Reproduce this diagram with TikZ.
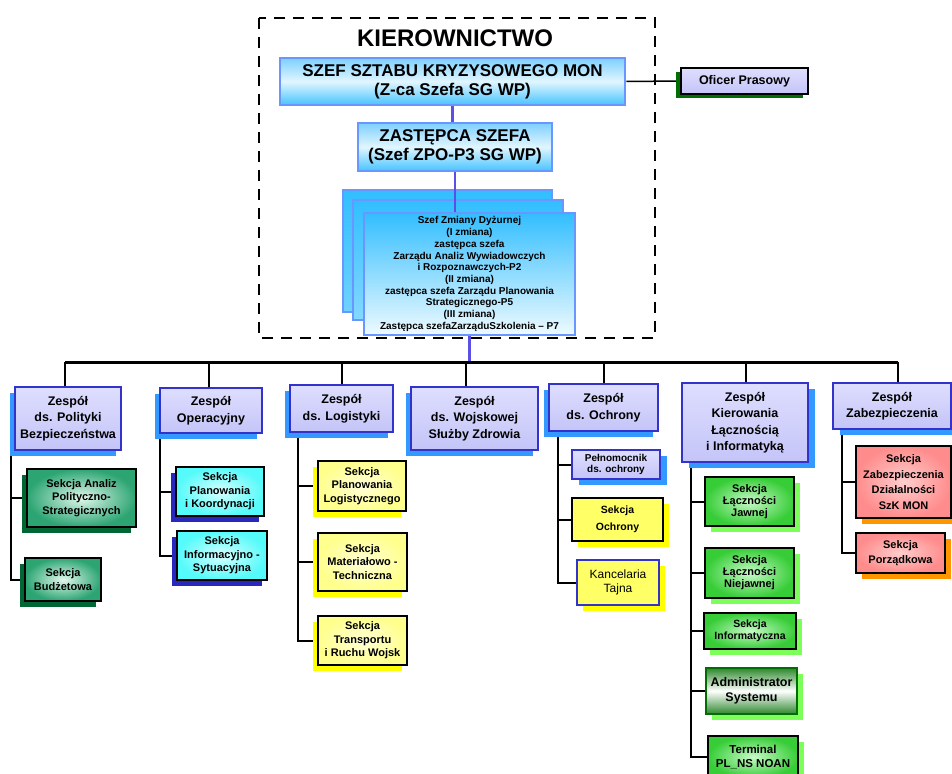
\documentclass[tikz,border=0pt]{standalone}
\usepackage{fontspec}
\setmainfont{Liberation Sans}
\usetikzlibrary{shadows}
\pgfdeclarelayer{edgelayer}
\pgfdeclarelayer{nodelayer}
\pgfsetlayers{edgelayer,nodelayer,main}
\definecolor{headline}{RGB}{105,150,255}
\definecolor{headtop}{RGB}{125,208,255}
\definecolor{headmid}{RGB}{225,246,255}
\definecolor{headbot}{RGB}{70,195,255}
\definecolor{dutytop}{RGB}{50,190,255}
\definecolor{dutybot}{RGB}{238,250,255}
\definecolor{trunkline}{RGB}{90,80,230}
\definecolor{teamline}{RGB}{51,51,204}
\definecolor{teamtop}{RGB}{222,222,255}
\definecolor{teambot}{RGB}{196,196,248}
\definecolor{teamshadow}{RGB}{51,153,255}
\definecolor{tealin}{RGB}{225,248,236}
\definecolor{tealout}{RGB}{45,165,115}
\definecolor{tealshadow}{RGB}{0,102,51}
\definecolor{aquain}{RGB}{215,255,255}
\definecolor{aquaout}{RGB}{85,250,250}
\definecolor{aquashadow}{RGB}{40,40,190}
\definecolor{lemonin}{RGB}{255,255,215}
\definecolor{lemonout}{RGB}{255,255,140}
\definecolor{lemonshadow}{RGB}{255,255,0}
\definecolor{guardfill}{RGB}{255,255,102}
\definecolor{limein}{RGB}{200,250,200}
\definecolor{limeout}{RGB}{55,205,55}
\definecolor{limeshadow}{RGB}{125,255,90}
\definecolor{admdark}{RGB}{45,135,45}
\definecolor{admline}{RGB}{0,110,0}
\definecolor{rosein}{RGB}{255,205,205}
\definecolor{roseout}{RGB}{255,140,140}
\definecolor{roseshadow}{RGB}{255,150,0}
\tikzstyle{none}=[inner sep=0pt]
\tikzstyle{box}=[rectangle, inner sep=0pt, align=center]
\tikzstyle{head}=[box, draw=headline, line width=2.5pt, top color=headtop, bottom color=headbot, middle color=headmid, font=\bfseries\fontsize{17}{19}\selectfont]
\tikzstyle{duty}=[box, draw=headline, line width=2.5pt, top color=dutytop, bottom color=dutybot, font=\bfseries\fontsize{10}{11.7}\selectfont]
\tikzstyle{press}=[box, draw=black, line width=1.8pt, top color=teamtop, bottom color=teambot, font=\bfseries\fontsize{12.5}{14}\selectfont, drop shadow={shadow xshift=-5pt, shadow yshift=-4pt, opacity=1, fill=admline}]
\tikzstyle{team}=[box, draw=teamline, line width=2.5pt, top color=teamtop, bottom color=teambot, font=\bfseries\fontsize{12.5}{16.5}\selectfont, drop shadow={shadow xshift=-5pt, shadow yshift=-6pt, opacity=1, fill=teamshadow}]
\tikzstyle{rteam}=[box, draw=teamline, line width=2.5pt, top color=teamtop, bottom color=teambot, font=\bfseries\fontsize{12.5}{16.5}\selectfont, drop shadow={shadow xshift=7pt, shadow yshift=-6pt, opacity=1, fill=teamshadow}]
\tikzstyle{section}=[box, draw=black, line width=2pt, font=\bfseries\fontsize{11}{13.5}\selectfont]
\tikzstyle{teal}=[section, inner color=tealin, outer color=tealout, drop shadow={shadow xshift=-5pt, shadow yshift=-6pt, opacity=1, fill=tealshadow}]
\tikzstyle{aqua}=[section, inner color=aquain, outer color=aquaout, drop shadow={shadow xshift=-5pt, shadow yshift=-6pt, opacity=1, fill=aquashadow}]
\tikzstyle{lemon}=[section, inner color=lemonin, outer color=lemonout, drop shadow={shadow xshift=-5pt, shadow yshift=-6pt, opacity=1, fill=lemonshadow}]
\tikzstyle{guard}=[section, fill=guardfill, drop shadow={shadow xshift=6pt, shadow yshift=-6pt, opacity=1, fill=lemonshadow}]
\tikzstyle{lime}=[section, inner color=limein, outer color=limeout, drop shadow={shadow xshift=6pt, shadow yshift=-6pt, opacity=1, fill=limeshadow}]
\tikzstyle{rose}=[section, inner color=rosein, outer color=roseout, drop shadow={shadow xshift=6pt, shadow yshift=-6pt, opacity=1, fill=roseshadow}]
\tikzstyle{edge}=[draw=black, line width=2pt]
\tikzstyle{bus}=[draw=black, line width=3pt]
\tikzstyle{trunk}=[draw=trunkline, line width=2.5pt]
\tikzstyle{frame}=[draw=black, line width=2.8pt, dash pattern=on 11pt off 8pt]

\begin{document}
\begin{tikzpicture}[x=1pt, y=-1pt]
			\useasboundingbox (0, 0) rectangle (952, 773);
			\begin{pgfonlayer}{nodelayer}
			\node [style=none, font=\bfseries\fontsize{24}{28}\selectfont] (1) at (455, 38) {KIEROWNICTWO};
			\node [style=head, minimum width=345, minimum height=47] (2) at (452.5, 81.5) {SZEF SZTABU KRYZYSOWEGO MON\\(Z-ca Szefa SG WP)};
			\node [style=press, minimum width=127, minimum height=26] (3) at (744.5, 81) {Oficer Prasowy};
			\node [style=head, minimum width=194, minimum height=48] (4) at (455, 147) {ZASTĘPCA SZEFA\\(Szef ZPO-P3 SG WP)};
			\node [style=duty, minimum width=211, minimum height=122] (7) at (469.5, 274) {Szef Zmiany Dyżurnej\\(I zmiana)\\zastępca szefa\\Zarządu Analiz Wywiadowczych\\i Rozpoznawczych-P2\\(II zmiana)\\zastępca szefa Zarządu Planowania\\Strategicznego-P5\\(III zmiana)\\Zastępca szefaZarząduSzkolenia -- P7};
			\node [style=team, minimum width=106, minimum height=63] (20) at (68, 418.5) {Zespół\\ds. Polityki\\Bezpieczeństwa};
			\node [style=team, minimum width=102, minimum height=45] (21) at (211, 410.5) {Zespół\\Operacyjny};
			\node [style=team, minimum width=103, minimum height=47] (22) at (341.5, 408.5) {Zespół\\ds. Logistyki};
			\node [style=team, minimum width=127, minimum height=63] (23) at (474.5, 418.5) {Zespół\\ds. Wojskowej\\Służby Zdrowia};
			\node [style=team, minimum width=109, minimum height=47] (24) at (603.5, 407.5) {Zespół\\ds. Ochrony};
			\node [style=rteam, minimum width=126, minimum height=79] (25) at (745, 422.5) {Zespół\\Kierowania\\Łącznością\\i Informatyką};
			\node [style=rteam, minimum width=118, minimum height=46] (26) at (892, 406) {Zespół\\Zabezpieczenia};
			\node [style=teal, minimum width=109, minimum height=58] (30) at (81.5, 498) {Sekcja Analiz\\Polityczno-\\Strategicznych};
			\node [style=teal, minimum width=76, minimum height=43] (31) at (63, 579.5) {Sekcja\\Budżetowa};
			\node [style=aqua, minimum width=88, minimum height=49] (32) at (220, 491.5) {Sekcja\\Planowania\\i Koordynacji};
			\node [style=aqua, minimum width=90, minimum height=49] (33) at (222, 555.5) {Sekcja\\Informacyjno -\\Sytuacyjna};
			\node [style=lemon, minimum width=88, minimum height=50] (34) at (362, 486) {Sekcja\\Planowania\\Logistycznego};
			\node [style=lemon, minimum width=89, minimum height=58] (35) at (362.5, 562) {Sekcja\\Materiałowo -\\Techniczna};
			\node [style=lemon, minimum width=89, minimum height=49] (36) at (362.5, 640.5) {Sekcja\\Transportu\\i Ruchu Wojsk};
			\node [style=rteam, font=\bfseries\fontsize{10}{10.7}\selectfont, minimum width=88, minimum height=29] (37) at (616, 464.5) {Pełnomocnik\\ds. ochrony};
			\node [style=guard, line width=2.6pt, font=\bfseries\fontsize{10.5}{16.5}\selectfont, minimum width=91, minimum height=43] (38) at (617.5, 519.5) {Sekcja\\Ochrony};
			\node [style=guard, draw=teamline, font=\fontsize{12}{14.3}\selectfont, minimum width=82, minimum height=45] (39) at (618, 582.5) {Kancelaria\\Tajna};
			\node [style=lime, font=\bfseries\fontsize{11}{12}\selectfont, minimum width=89, minimum height=49] (40) at (749.5, 501.5) {Sekcja\\Łączności\\Jawnej};
			\node [style=lime, font=\bfseries\fontsize{11}{12}\selectfont, minimum width=89, minimum height=50] (41) at (749.5, 573) {Sekcja\\Łączności\\Niejawnej};
			\node [style=lime, font=\bfseries\fontsize{10.5}{12}\selectfont, minimum width=92, minimum height=36] (42) at (750, 631) {Sekcja\\Informatyczna};
			\node [style=lime, draw=admline, top color=admdark, bottom color=admdark, middle color=white, font=\bfseries\fontsize{12.5}{15}\selectfont, minimum width=91, minimum height=46] (43) at (751.5, 691) {Administrator\\Systemu};
			\node [style=lime, font=\bfseries\fontsize{11.5}{14}\selectfont, minimum width=90, minimum height=42] (44) at (753, 757) {Terminal\\PL\_NS NOAN};
			\node [style=rose, font=\bfseries\fontsize{11}{15.5}\selectfont, minimum width=95, minimum height=72] (45) at (903.5, 482) {Sekcja\\Zabezpieczenia\\Działalności\\SzK MON};
			\node [style=rose, font=\bfseries\fontsize{11}{15.5}\selectfont, minimum width=89, minimum height=40] (46) at (900.5, 553) {Sekcja\\Porządkowa};
			\coordinate (50) at (65, 362);
			\coordinate (51) at (209, 362);
			\coordinate (52) at (342, 362);
			\coordinate (53) at (466, 362);
			\coordinate (54) at (604, 362);
			\coordinate (55) at (746, 362);
			\coordinate (56) at (898, 362);
			\end{pgfonlayer}
			\begin{pgfonlayer}{edgelayer}
			\node [style=duty, top color=dutytop, bottom color=dutytop!70!white, minimum width=209, minimum height=122] (5) at (447.5, 251) {};
			\node [style=duty, top color=dutytop, bottom color=dutytop!60!white, minimum width=210, minimum height=120] (6) at (458, 260) {};
			\draw [style=trunk] (2.south) to (2.south |- 4.north);
			\draw [style=trunk] (4.south) to (4.south |- 7.north);
			\draw [style=trunk] (7.south) to (7.south |- 50);
			\draw [style=edge, line width=1.5pt] (2.east) to (3.west);
			\draw [style=bus] (50) to (56);
			\draw [style=edge] (50) to (50 |- 20.north);
			\draw [style=edge] (51) to (51 |- 21.north);
			\draw [style=edge] (52) to (52 |- 22.north);
			\draw [style=edge] (53) to (53 |- 23.north);
			\draw [style=edge] (54) to (54 |- 24.north);
			\draw [style=edge] (55) to (55 |- 25.north);
			\draw [style=edge] (56) to (56 |- 26.north);
			\draw [style=edge] ([xshift=-3pt]20.south west) |- (30.west);
			\draw [style=edge] ([xshift=-3pt]20.south west) |- (31.west);
			\draw [style=edge] ([xshift=1pt]21.south west) |- (32.west);
			\draw [style=edge] ([xshift=1pt]21.south west) |- (33.west);
			\draw [style=edge] ([xshift=9pt]22.south west) |- (34.west);
			\draw [style=edge] ([xshift=9pt]22.south west) |- (35.west);
			\draw [style=edge] ([xshift=9pt]22.south west) |- (36.west);
			\draw [style=edge] ([xshift=10pt]24.south west) |- (37.west);
			\draw [style=edge] ([xshift=10pt]24.south west) |- (38.west);
			\draw [style=edge] ([xshift=10pt]24.south west) |- (39.west);
			\draw [style=edge] ([xshift=10pt]25.south west) |- (40.west);
			\draw [style=edge] ([xshift=10pt]25.south west) |- (41.west);
			\draw [style=edge] ([xshift=10pt]25.south west) |- (42.west);
			\draw [style=edge] ([xshift=10pt]25.south west) |- (43.west);
			\draw [style=edge] ([xshift=10pt]25.south west) |- (44.west);
			\draw [style=edge] ([xshift=10pt]26.south west) |- (45.west);
			\draw [style=edge] ([xshift=10pt]26.south west) |- (46.west);
			\end{pgfonlayer}
			\draw [style=frame] (259, 18) rectangle (655, 338);
\end{tikzpicture}
\end{document}
